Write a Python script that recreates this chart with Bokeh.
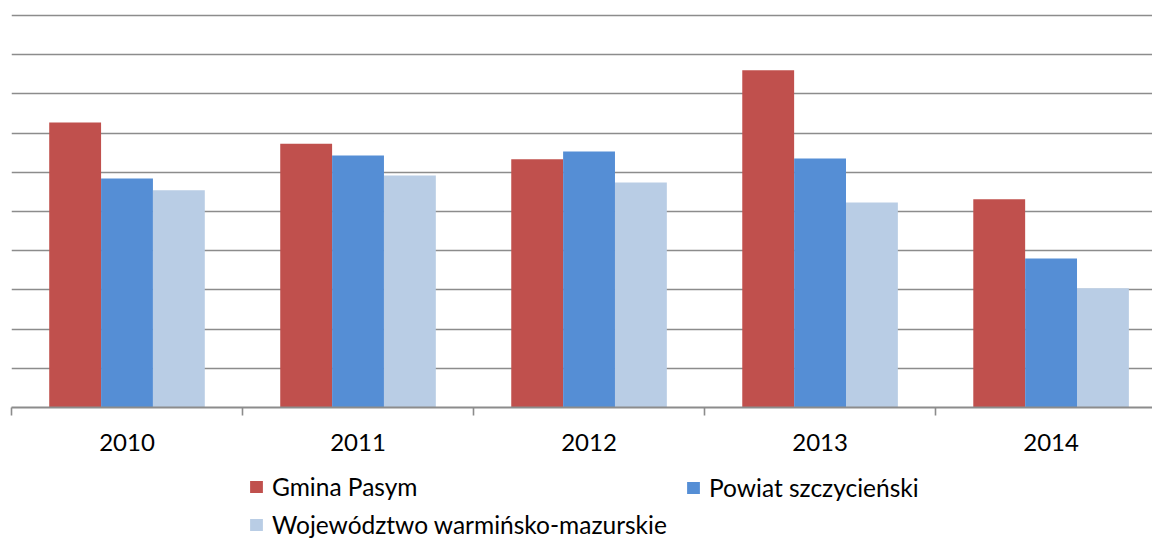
from bokeh.plotting import figure
from bokeh.layouts import column
from bokeh.models import ColumnDataSource, FixedTicker, Range1d, Legend, LegendItem
from bokeh.transform import dodge
from bokeh.embed import file_html
from bokeh.resources import INLINE

years = ["2010", "2011", "2012", "2013", "2014"]
gmina = [7.27, 6.73, 6.33, 8.60, 5.31]
powiat = [5.84, 6.43, 6.53, 6.35, 3.80]
wojewodztwo = [5.54, 5.92, 5.74, 5.23, 3.04]
series_names = ["Gmina Pasym", "Powiat szczycieński", "Województwo warmińsko-mazurskie"]
colors = ["#C0504D", "#558ED5", "#B9CDE5"]

centers = [i + 0.5 for i in range(len(years))]
boundaries = [float(i) for i in range(len(years))]

src = ColumnDataSource(dict(x=centers, g=gmina, p=powiat, w=wojewodztwo))

FONT = "Lato"
p = figure(width=1152, height=457, output_backend="svg", toolbar_location=None,
           x_range=Range1d(0, 4.939), y_range=Range1d(0, 10.1),
           min_border_left=11, min_border_right=0, min_border_top=11, min_border_bottom=50)
p.outline_line_color = None
p.background_fill_color = "white"
p.border_fill_color = "white"

bw = 0.2245
r1 = p.vbar(x=dodge("x", -bw, range=p.x_range), top="g", width=bw, source=src,
            fill_color=colors[0], line_color=None)
r2 = p.vbar(x=dodge("x", 0, range=p.x_range), top="p", width=bw, source=src,
            fill_color=colors[1], line_color=None)
r3 = p.vbar(x=dodge("x", bw, range=p.x_range), top="w", width=bw, source=src,
            fill_color=colors[2], line_color=None)

# y grid
p.yaxis.visible = False
p.ygrid.ticker = FixedTicker(ticks=list(range(0, 11)))
p.ygrid.grid_line_color = "#8c8c8c"
p.ygrid.grid_line_width = 1.6
p.xgrid.visible = False

# x axis
xa = p.xaxis[0]
xa.ticker = FixedTicker(ticks=centers, minor_ticks=boundaries)
xa.major_label_overrides = {c: y for c, y in zip(centers, years)}
xa.major_tick_in = 0
xa.major_tick_out = 0
xa.minor_tick_in = 0
xa.minor_tick_out = 8
xa.minor_tick_line_color = "#8c8c8c"
xa.minor_tick_line_width = 1.6
xa.axis_line_color = "#8c8c8c"
xa.axis_line_width = 1.8
xa.major_label_text_font = FONT
xa.major_label_text_font_size = "24px"
xa.major_label_text_color = "#000000"
xa.major_label_standoff = 18

# legend panel (its bars lie outside its visible x range; only the legend shows)
lf = figure(width=1152, height=82, output_backend="svg", toolbar_location=None,
            x_range=Range1d(-20, -19), y_range=Range1d(0, 10),
            x_axis_location=None, y_axis_location=None, min_border=0)
lf.outline_line_color = None
lf.grid.visible = False
lr = [lf.vbar(x="x", top=col, width=bw, source=src, fill_color=c, line_color=None)
      for col, c in zip(["g", "p", "w"], colors)]

def mk_legend(items, loc):
    return Legend(items=items, location=loc, orientation="vertical",
                  label_text_font=FONT, label_text_font_size="24.5px",
                  label_text_color="#000000",
                  glyph_width=16, glyph_height=15, label_standoff=8,
                  spacing=9, padding=0, margin=0,
                  border_line_color=None, background_fill_alpha=0)

leg1 = mk_legend([LegendItem(label=series_names[0], renderers=[lr[0]]),
                  LegendItem(label=series_names[2], renderers=[lr[2]])], (237, 0))
leg2 = mk_legend([LegendItem(label=series_names[1], renderers=[lr[1]])], (674, 37))
lf.add_layout(leg1, "center")
lf.add_layout(leg2, "center")

layout = column(p, lf, spacing=0)
open("out.html", "w").write(file_html(layout, INLINE))
